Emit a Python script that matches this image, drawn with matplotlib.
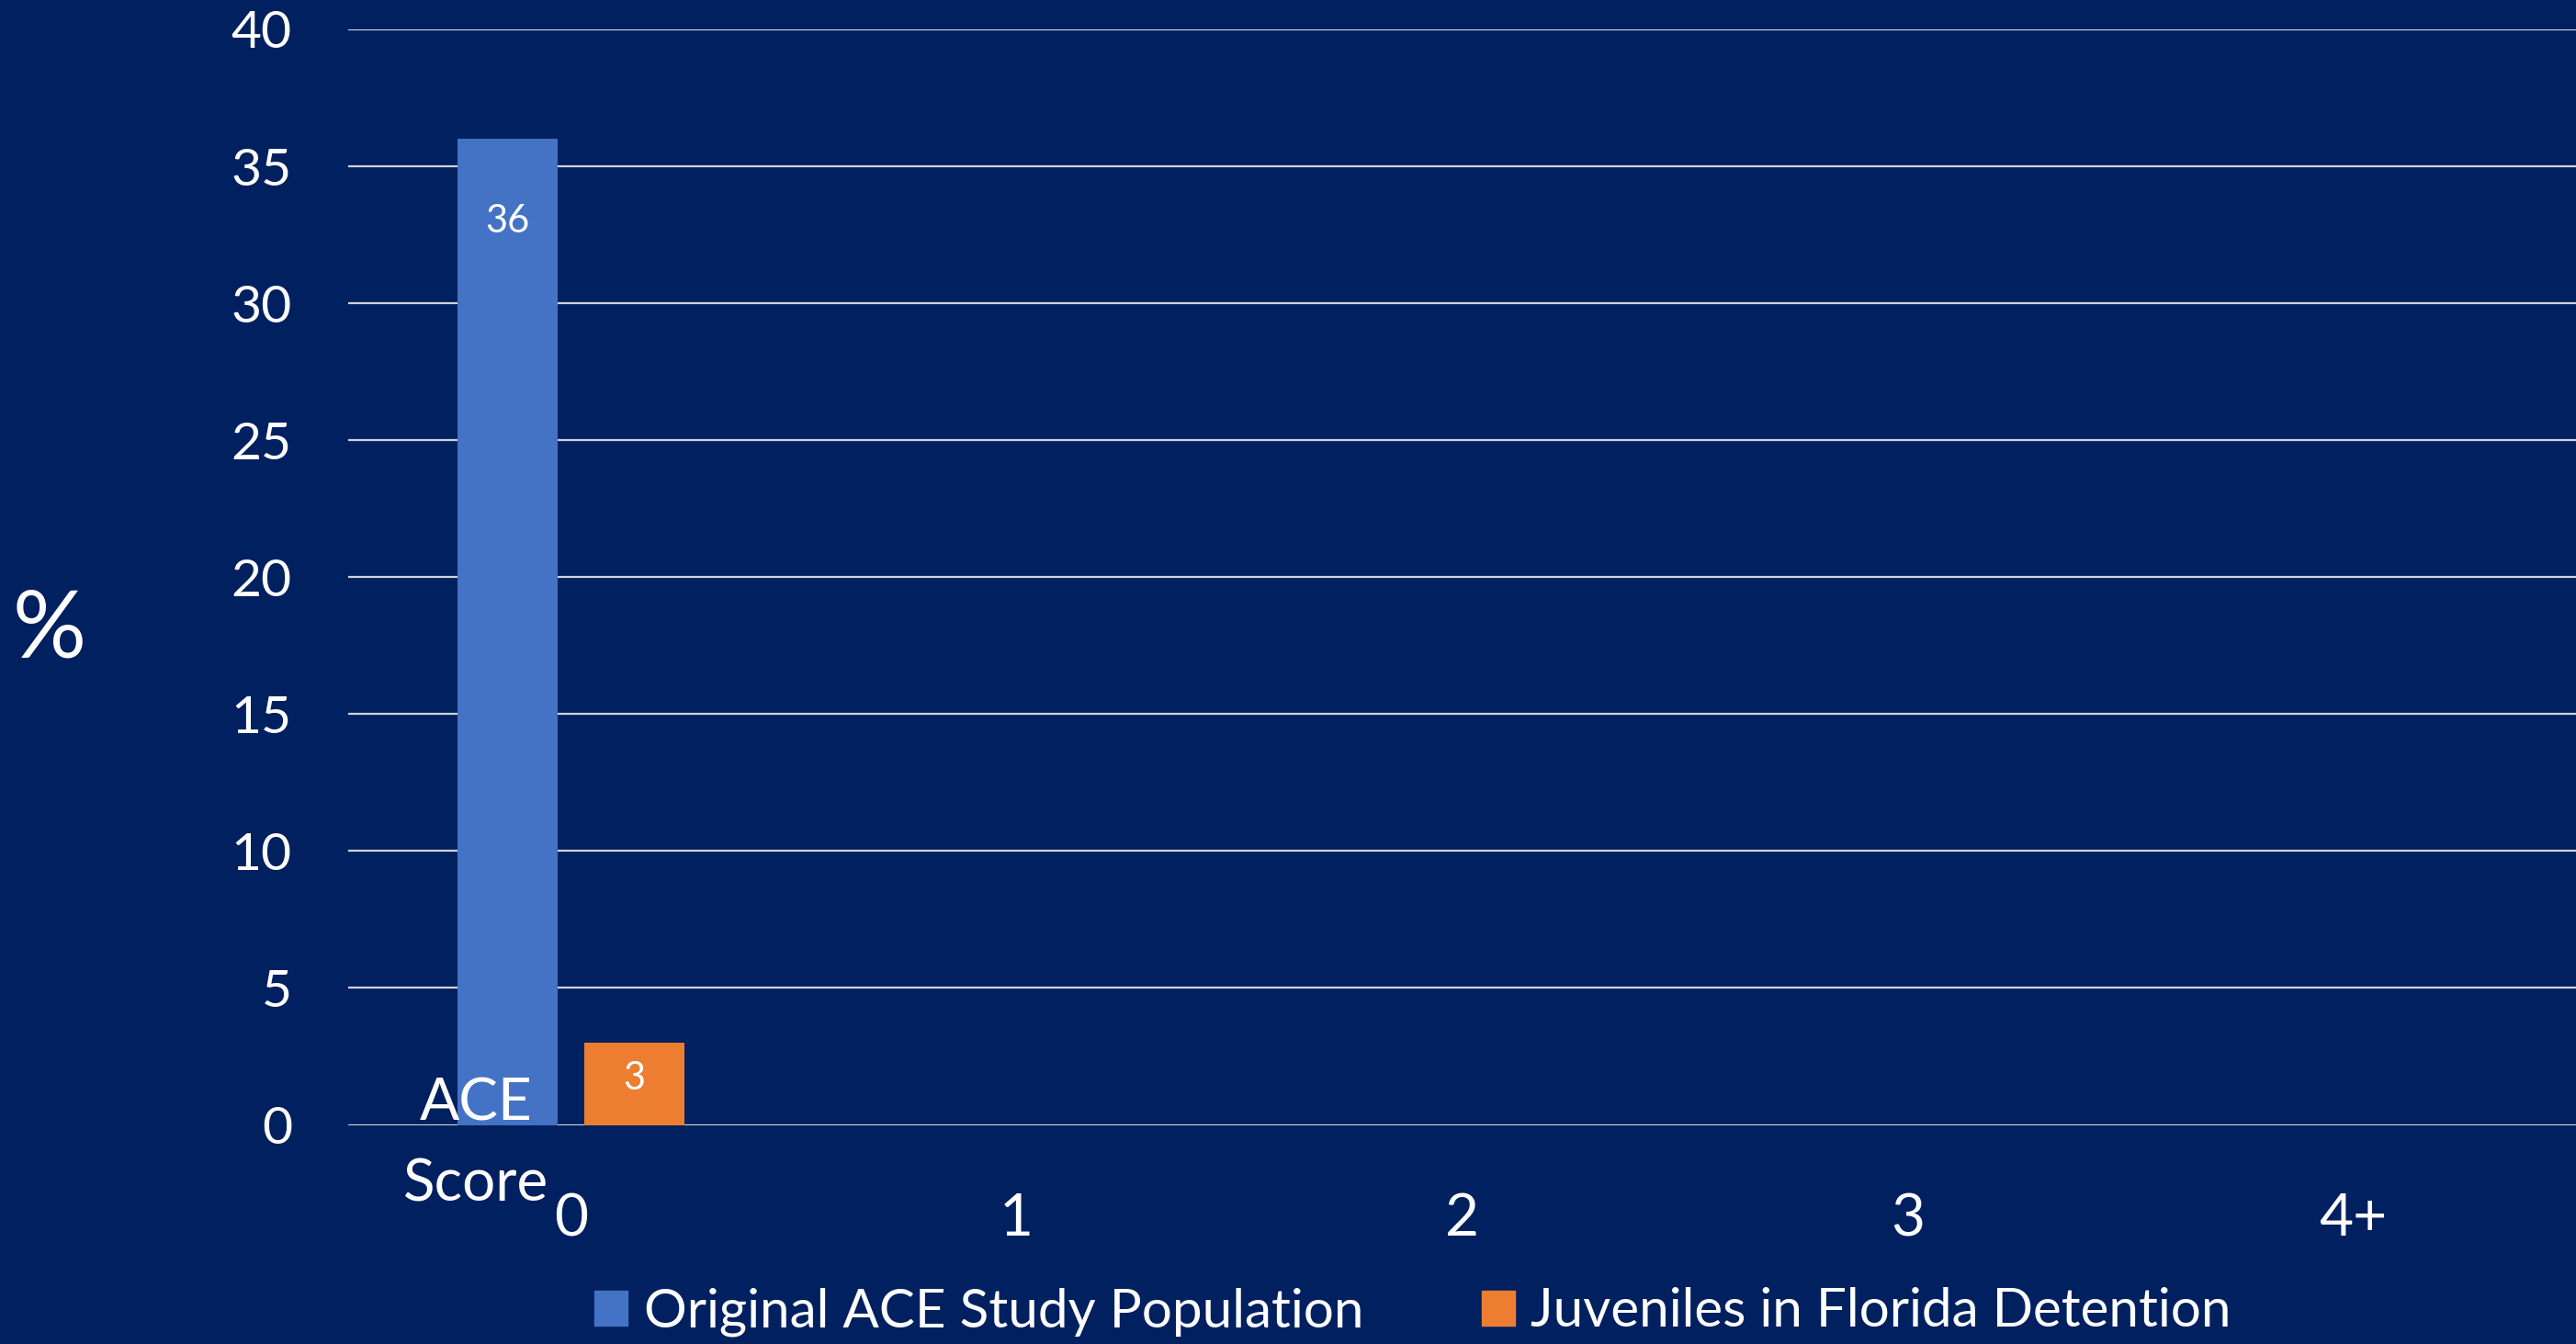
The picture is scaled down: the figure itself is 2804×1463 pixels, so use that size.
import numpy as np
import matplotlib
matplotlib.use("Agg")
import matplotlib.pyplot as plt
from matplotlib.patches import Patch

# data (only the ACE score 0 bars are shown)
categories = ["0", "1", "2", "3", "4+"]
original_ace = [36, np.nan, np.nan, np.nan, np.nan]
florida_juv = [3, np.nan, np.nan, np.nan, np.nan]
series_names = ["Original ACE Study Population", "Juveniles in Florida Detention"]

bg = "#002060"
blue = "#4472C4"
orange = "#ED7D31"
W, H = 2804, 1463

plt.rcParams["font.family"] = ["Lato", "DejaVu Sans"]

fig = plt.figure(figsize=(W / 100, H / 100), dpi=100, facecolor=bg)
ax = fig.add_axes([379 / W, 1 - 1224.5 / H, 1 - 379 / W, (1224.5 - 32) / H])
ax.set_facecolor(bg)

x = np.arange(len(categories))
bw = 0.225
off = 0.142
b1 = ax.bar(x - off, original_ace, bw, color=blue, zorder=3)
b2 = ax.bar(x + off, florida_juv, bw, color=orange, zorder=3)

# value labels: inside end, but never below the middle of a short bar
for bars, vals in ((b1, original_ace), (b2, florida_juv)):
    for rect, v in zip(bars, vals):
        if np.isnan(v):
            continue
        ypos = max(v - 3.0, v / 2 + 0.2)
        ax.text(rect.get_x() + rect.get_width() / 2, ypos, "%d" % v,
                ha="center", va="center", color="white", fontsize=30, zorder=4)

ax.set_xlim(-0.5, len(categories) - 0.5)
ax.set_ylim(0, 40)
ax.set_yticks(np.arange(0, 41, 5))
ax.set_xticks(x)
ax.set_xticklabels(categories)
ax.yaxis.grid(True, color="#D0D3DC", linewidth=1.6, zorder=0)
ax.set_axisbelow(True)
for s in ax.spines.values():
    s.set_visible(False)
ax.tick_params(axis="y", length=0, pad=44, labelsize=41, labelcolor="white")
ax.tick_params(axis="x", length=0, pad=53, labelsize=46, labelcolor="white")

fig.text(54 / W, 1 - 715 / H, "%", color="white", fontsize=72,
         ha="center", va="baseline")
fig.text(518 / W, 1 - 1220 / H, "ACE", color="white", fontsize=46,
         ha="center", va="baseline", zorder=5)
fig.text(518 / W, 1 - 1307 / H, "Score", color="white", fontsize=46,
         ha="center", va="baseline", zorder=5)

handles = [Patch(color=blue), Patch(color=orange)]
leg = fig.legend(handles, series_names, loc="center", ncol=2,
                 bbox_to_anchor=(1538 / W, 1 - 1428 / H), frameon=False,
                 fontsize=42, labelcolor="white", handlelength=0.62,
                 handleheight=0.62, handletextpad=0.3, columnspacing=2.2,
                 borderpad=0)

fig.savefig("out.png", dpi=100, facecolor=bg)
